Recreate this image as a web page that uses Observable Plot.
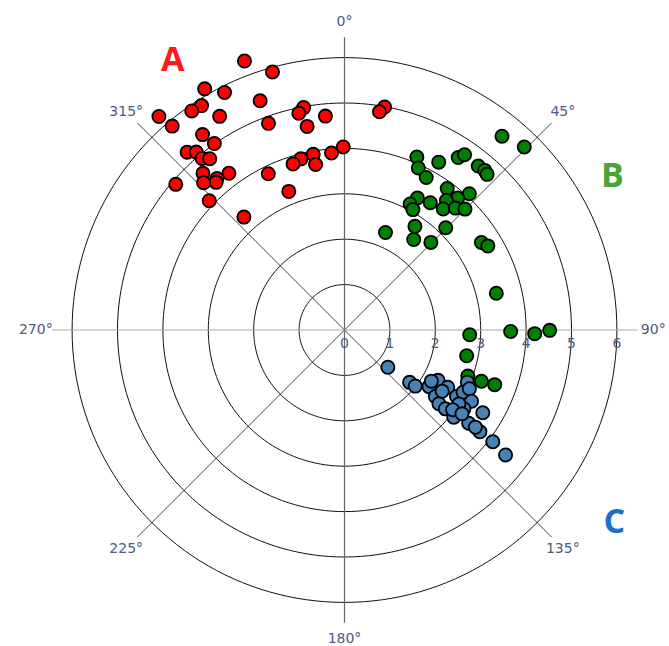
<!DOCTYPE html>
<html><head><meta charset="utf-8">
<script src="https://cdn.jsdelivr.net/npm/d3@7"></script>
<script src="https://cdn.jsdelivr.net/npm/@observablehq/plot@0.6"></script>
<style>body{margin:0;background:#fff}</style>
</head><body><div id="chart"></div>
<script>
// ---- data (angle in degrees clockwise from north, radius) ----
const groups = ["A", "B", "C"];
const groupColors = ["#ff0000", "#008000", "#4682b4"];

const thetaA = [339.6, 344.4, 329.9, 333.2, 339.8, 327.5, 325.1, 319.0, 329.7, 319.8,
  324.0, 325.1, 318.5, 320.2, 320.3, 321.8, 317.9, 323.6, 319.9, 319.0,
  316.3, 310.8, 313.7, 318.3, 339.8, 349.6, 348.1, 354.9, 349.6, 10.2,
  9.1, 359.6, 355.8, 349.9, 345.7, 342.8, 350.1, 334.0, 338.1];
const rA = [6.32, 5.90, 6.14, 5.86, 5.38, 5.86, 5.88, 6.23, 5.45, 5.88,
  5.32, 5.01, 5.23, 5.10, 4.91, 4.80, 4.65, 4.29, 4.36, 4.31,
  4.49, 4.91, 4.12, 3.33, 4.85, 4.98, 4.88, 4.73, 4.56, 4.99,
  4.87, 4.03, 3.91, 3.93, 3.89, 3.83, 3.70, 3.83, 3.29];

const thetaB = [39.1, 44.5, 22.7, 29.3, 33.4, 34.4, 24.5, 39.2, 41.3, 42.5,
  28.2, 36.0, 42.5, 28.9, 27.5, 34.0, 40.6, 38.2, 39.2, 42.3,
  44.9, 29.6, 34.2, 44.7, 22.8, 37.4, 44.6, 57.4, 59.6, 76.4,
  92.2, 90.5, 91.1, 90.1, 101.9, 110.5, 110.5, 110.0];
const rB = [5.50, 5.65, 4.13, 4.24, 4.55, 4.68, 3.92, 4.66, 4.68, 4.65,
  3.81, 3.85, 4.07, 3.32, 3.13, 3.38, 3.83, 3.63, 3.44, 3.63,
  3.76, 3.05, 2.76, 3.17, 2.33, 2.51, 2.71, 3.58, 3.66, 3.44,
  2.76, 3.66, 4.19, 4.52, 2.75, 2.90, 3.22, 3.52];

const thetaC = [130.7, 128.8, 128.4, 123.8, 118.3, 119.0, 126.2, 128.0, 128.0, 120.7,
  117.7, 113.0, 115.2, 119.3, 123.4, 128.6, 120.9, 126.9, 126.9, 127.0,
  127.8, 120.5, 122.1, 122.9, 126.4, 125.5, 126.6];
const rC = [1.26, 1.84, 1.99, 2.24, 2.34, 2.60, 2.48, 2.64, 2.82, 2.87,
  2.95, 2.94, 3.04, 3.21, 3.15, 3.08, 3.55, 3.42, 3.73, 4.09,
  4.49, 2.22, 2.54, 3.00, 2.96, 3.18, 3.59];

const ringValues = [1, 2, 3, 4, 5, 6];
const radialTicks = [0, 1, 2, 3, 4, 5, 6];
const angleTicks = [0, 45, 90, 135, 180, 225, 270, 315];

const groupLabelNames = ["A", "B", "C"];
const groupLabelColors = ["#ff1a1a", "#4ba336", "#1a6fd0"];
const groupLabelTheta = [327.5, 60.2, 125.5];
const groupLabelR = [7.04, 6.80, 7.30];

// ---- helpers ----
const rad = t => t * Math.PI / 180;
const px = (t, r) => r * Math.sin(rad(t));
const py = (t, r) => r * Math.cos(rad(t));

const points = [
  ...thetaA.map((t, i) => ({group: "A", theta: t, r: rA[i]})),
  ...thetaB.map((t, i) => ({group: "B", theta: t, r: rB[i]})),
  ...thetaC.map((t, i) => ({group: "C", theta: t, r: rC[i]}))
];

const ringPts = ringValues.flatMap(rv => d3.range(0, 361, 2).map(a => ({ring: rv, a})));
const spokeLen = 6.45;
const labelR = 6.8;

const K = 45.4, W = 669, H = 646, CX = 344, CY = 329.5;

const chart = Plot.plot({
  width: W, height: H, margin: 0,
  x: {domain: [-CX / K, (W - CX) / K], axis: null},
  y: {domain: [(CY - H) / K, CY / K], axis: null},
  color: {domain: groups, range: groupColors},
  style: {fontFamily: "DejaVu Sans, sans-serif", background: "#fff"},
  marks: [
    Plot.line(ringPts, {x: d => px(d.a, d.ring), y: d => py(d.a, d.ring), z: "ring",
      stroke: "#111", strokeWidth: 1, curve: "linear"}),
    Plot.link(angleTicks.filter(a => a % 90 !== 0), {
      x1: 0, y1: 0, x2: a => px(a, spokeLen), y2: a => py(a, spokeLen),
      stroke: "#111", strokeWidth: 0.8}),
    Plot.link([0, 180], {
      x1: 0, y1: 0, x2: a => px(a, spokeLen), y2: a => py(a, spokeLen),
      stroke: "#666", strokeWidth: 1.2}),
    Plot.link([90, 270], {
      x1: 0, y1: 0, x2: a => px(a, spokeLen), y2: a => py(a, spokeLen),
      stroke: "#aaa", strokeWidth: 1.2}),
    Plot.text(angleTicks, {
      x: a => px(a, labelR), y: a => py(a, labelR), text: a => `${a}°`,
      fill: "#4d5b7c", fontSize: 14}),
    Plot.text(radialTicks, {
      x: v => v, y: 0, dy: 14, text: v => `${v}`,
      fill: "#4d5b7c", fontSize: 14}),
    ...["A", "B", "C"].map(g => Plot.dot(points.filter(d => d.group === g), {
      x: d => px(d.theta, d.r), y: d => py(d.theta, d.r),
      r: 6.6, fill: "group", stroke: "#000", strokeWidth: 1.8})),
    ...groupLabelNames.map((name, i) => Plot.text([name], {
      x: () => px(groupLabelTheta[i], groupLabelR[i]),
      y: () => py(groupLabelTheta[i], groupLabelR[i]),
      text: d => d, fill: groupLabelColors[i], fontSize: 34, fontWeight: "bold",
      fontFamily: "Open Sans, sans-serif"}))
  ]
});
document.getElementById("chart").appendChild(chart);
</script>
</body></html>
